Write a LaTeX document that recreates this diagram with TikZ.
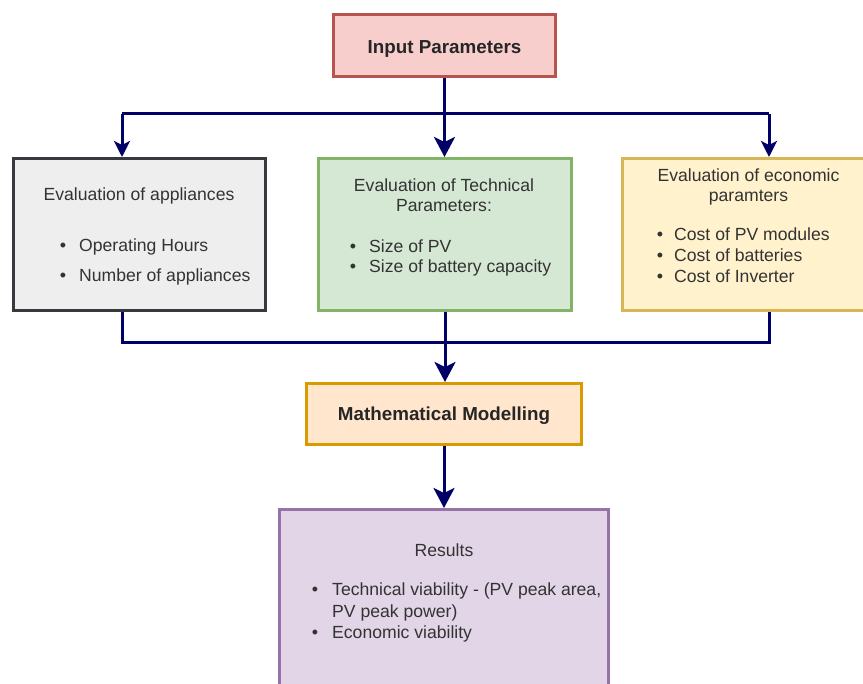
\documentclass[tikz,border=0pt]{standalone}
\usepackage{fontspec}
\setmainfont{Liberation Sans}
\usetikzlibrary{arrows.meta}
\definecolor{navy}{RGB}{0,0,102}
\definecolor{txtgray}{RGB}{51,51,51}
\definecolor{redfill}{HTML}{F8CECC}\definecolor{redline}{HTML}{B85450}
\definecolor{grayfill}{HTML}{EEEEEE}\definecolor{grayline}{HTML}{36393D}
\definecolor{greenfill}{HTML}{D5E8D4}\definecolor{greenline}{HTML}{82B366}
\definecolor{yelfill}{HTML}{FFF2CC}\definecolor{yelline}{HTML}{D6B656}
\definecolor{orfill}{HTML}{FFE6CC}\definecolor{orline}{HTML}{D79B00}
\definecolor{purfill}{HTML}{E1D5E7}\definecolor{purline}{HTML}{9673A6}
\tikzset{
  box/.style={rectangle, line width=3pt, inner sep=0pt},
  conn/.style={draw=navy, line width=3pt, line join=miter},
  arr/.style={conn, -{Stealth[length=16pt,width=16pt,inset=4pt]}},
  bigarr/.style={conn, -{Stealth[length=20pt,width=21pt,inset=5pt]}},
  txt/.style={anchor=base west, inner sep=0pt, text=txtgray, font=\fontsize{17.6}{20}\selectfont},
  ttl/.style={anchor=base, inner sep=0pt, text=txtgray, font=\fontsize{17.6}{20}\selectfont},
  bld/.style={anchor=base, inner sep=0pt, text=black!85, font=\bfseries\fontsize{18.8}{22}\selectfont},
  bul/.style={anchor=base, inner sep=0pt, text=txtgray, font=\fontsize{18}{20}\selectfont}
}
\begin{document}
\begin{tikzpicture}[x=1pt,y=-1pt]
\useasboundingbox (0,0) rectangle (863,684);
% boxes
\node[box, fill=redfill, draw=redline, minimum width=222pt, minimum height=62pt] (inp) at (444.5,45.5) {};
\node[box, fill=grayfill, draw=grayline, minimum width=252pt, minimum height=152pt] (gray) at (139.5,234.5) {};
\node[box, fill=greenfill, draw=greenline, minimum width=253pt, minimum height=152pt] (green) at (445,234.5) {};
\node[box, fill=yelfill, draw=yelline, minimum width=252pt, minimum height=152pt] (yel) at (748.5,234.5) {};
\node[box, fill=orfill, draw=orline, minimum width=275pt, minimum height=61pt] (math) at (444,414) {};
\node[box, fill=purfill, draw=purline, minimum width=329pt, minimum height=200pt] (res) at (444,609.5) {};
% connector coordinates
\coordinate (tl) at (122,114);
\coordinate (tr) at (769,114);
\coordinate (bl) at (122,343);
\coordinate (br) at (769,343);
% top connectors
\draw[conn] (tl) -- (tr);
\draw[bigarr] (inp.south) -- (inp.south |- green.north);
\draw[arr] (tl) -- (tl |- gray.north);
\draw[arr] (tr) -- (tr |- yel.north);
% bottom connectors
\draw[conn] (bl |- gray.south) -- (bl) -- (br) -- (br |- yel.south);
\draw[bigarr] (green.south) -- (green.south |- math.north);
\draw[bigarr] (math.south) -- (math.south |- res.north);
% texts
\node[bld] (tinp) at (444.5,54) {Input Parameters};
\node[ttl] (tg0) at (139,201) {Evaluation of appliances};
\node[bul] (bg1) at (63,252) {•};\node[txt] (tg1) at (79,252) {Operating Hours};
\node[bul] (bg2) at (63,282) {•};\node[txt] (tg2) at (79,282) {Number of appliances};
\node[ttl] (tt0) at (444,191.5) {Evaluation of Technical};
\node[ttl] (tt1) at (444,212) {Parameters:};
\node[bul] (bt1) at (353,253) {•};\node[txt] (tt2) at (369,253) {Size of PV};
\node[bul] (bt2) at (353,273) {•};\node[txt] (tt3) at (369,273) {Size of battery capacity};
\node[ttl] (te0) at (748.5,181.5) {Evaluation of economic};
\node[ttl] (te1) at (748.5,202) {paramters};
\node[bul] (be1) at (660,241) {•};\node[txt] (te2) at (674,241) {Cost of PV modules};
\node[bul] (be2) at (660,262) {•};\node[txt] (te3) at (674,262) {Cost of batteries};
\node[bul] (be3) at (660,283) {•};\node[txt] (te4) at (674,283) {Cost of Inverter};
\node[bld] (tmath) at (444,421) {Mathematical Modelling};
\node[ttl] (tr0) at (444,557) {Results};
\node[bul] (br1) at (315,596) {•};\node[txt] (tr1) at (332,596) {Technical viability - (PV peak area,};
\node[txt] (tr2) at (332,617) {PV peak power)};
\node[bul] (br2) at (315,638) {•};\node[txt] (tr3) at (332,638) {Economic viability};
\end{tikzpicture}
\end{document}
